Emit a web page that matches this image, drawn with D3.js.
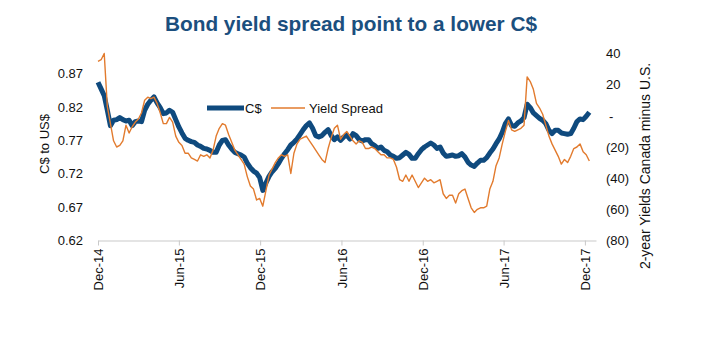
<!DOCTYPE html>
<html>
<head>
  <meta charset="utf-8">
  <title>Bond yield spread point to a lower C$</title>
  <script src="https://d3js.org/d3.v7.min.js"></script>
  <style>
    body { margin: 0; background: #fff; }
    svg text { font-family: "Liberation Sans", Arial, sans-serif; }
  </style>
</head>
<body>
  <svg id="chart" width="701" height="338"></svg>

  <script type="text/javascript">
    // weekly readings, starting 1 Dec 2014
    var startDate = "2014-12-01"
    var cad = [
      .857, .847, .837, .815, .792, .800, .801, .804, .801, .799,
      .800, .792, .798, .799, .798, .815, .824, .830, .835, .826,
      .819, .810, .811, .815, .812, .801, .790, .781, .773, .770,
      .768, .767, .763, .761, .758, .757, .755, .752, .752, .763,
      .770, .771, .763, .757, .752, .750, .748, .745, .736, .729,
      .724, .721, .714, .695, .706, .716, .723, .728, .735, .743,
      .750, .756, .763, .767, .772, .779, .786, .792, .796, .788,
      .777, .775, .777, .782, .786, .777, .771, .775, .770, .775,
      .778, .772, .780, .777, .771, .769, .771, .771, .765, .762,
      .758, .760, .755, .753, .748, .746, .743, .744, .748, .752,
      .749, .743, .743, .750, .756, .760, .763, .766, .763, .758,
      .760, .751, .746, .747, .748, .746, .747, .750, .745, .737,
      .733, .731, .736, .740, .740, .744, .751, .757, .765, .772,
      .782, .795, .802, .792, .791, .796, .799, .804, .824, .819,
      .811, .807, .803, .800, .795, .785, .780, .785, .785, .781,
      .780, .779, .780, .788, .798, .802, .801, .806, .812
    ]
    var spread = [
      35, 36, 40, 6, -5, -16, -20, -19, -16, -6,
      -11, -7, -4, -2, 2, 10, 12, 11, 12, 8,
      2, -5, -5, -1, -4, -13, -17, -19, -24, -24,
      -27, -28, -29, -25, -26, -25, -27, -22, -13, -8,
      -5, -6, -12, -17, -22, -25, -28, -31, -39, -45,
      -47, -54, -53, -58, -48, -38, -34, -30, -27, -25,
      -26, -25, -37, -24, -18, -15, -14, -13, -16, -19,
      -22, -25, -28, -30, -21, -14, -8, -6, -15, -12,
      -10, -13, -16, -18, -16, -17, -21, -21, -20, -21,
      -23, -25, -25, -27, -27, -28, -33, -41, -42, -38,
      -42, -38, -42, -46, -43, -40, -42, -41, -43, -42,
      -41, -50, -53, -51, -51, -56, -50, -48, -47, -53,
      -59, -62, -60, -59, -59, -58, -47, -42, -32, -27,
      -18, -10, -3, -9, -10, -9, -8, -6, 25, 22,
      17, 8, 5, 1, -6, -13, -18, -22, -26, -31,
      -28, -30, -26, -21, -20, -18, -23, -25, -29
    ]
    var xTicks = ["2014-12-01", "2015-06-01", "2015-12-01", "2016-06-01", "2016-12-01", "2017-06-01", "2017-12-01"]
    var leftTicks = [0.62, 0.67, 0.72, 0.77, 0.82, 0.87]
    var rightTicks = [-80, -60, -40, -20, 0, 20, 40]

    var parse = d3.timeParse("%Y-%m-%d")
    var start = parse(startDate)
    var dates = cad.map((v, i) => d3.timeWeek.offset(start, i))

    var svg = d3.select("#chart")
    var plotLeft = 98, plotRight = 596, plotTop = 53.5, plotBottom = 240.5
    var blue = "#0f4a7e", orange = "#e27b2e"

    var x = d3.scaleTime()
      .domain([start, parse("2017-12-26")])
      .range([plotLeft, plotRight])
    var yL = d3.scaleLinear().domain([0.62, 0.90]).range([plotBottom, plotTop])
    var yR = d3.scaleLinear().domain([-80, 40]).range([plotBottom, plotTop])

    svg.append("text")
      .attr("x", 351).attr("y", 31)
      .attr("text-anchor", "middle")
      .attr("font-size", 20.8).attr("font-weight", "bold")
      .attr("fill", "#1b4f7e")
      .text("Bond yield spread point to a lower C$")

    // bottom axis
    var xAxis = svg.append("g")
      .attr("transform", "translate(0," + plotBottom + ")")
      .call(d3.axisBottom(x).tickValues(xTicks.map(parse)).tickFormat(d3.timeFormat("%b-%y")).tickSize(5).tickSizeOuter(0))
    xAxis.select(".domain").attr("stroke", "#c9c9c9")
    xAxis.selectAll(".tick line").attr("stroke", "#c9c9c9")
    xAxis.selectAll(".tick text")
      .attr("font-size", 13).attr("fill", "#111")
      .attr("text-anchor", "end")
      .attr("transform", "rotate(-90)")
      .attr("x", -8).attr("y", 0).attr("dy", "0.35em")

    // left axis
    var yAxisL = svg.append("g")
      .attr("transform", "translate(" + (plotLeft - 10) + ",0)")
      .call(d3.axisLeft(yL).tickValues(leftTicks).tickFormat(d3.format(".2f")).tickSize(0))
    yAxisL.select(".domain").remove()
    yAxisL.selectAll(".tick text").attr("font-size", 13).attr("fill", "#111").attr("x", -5)

    // right axis
    var yAxisR = svg.append("g")
      .attr("transform", "translate(" + (plotRight + 6) + ",0)")
      .call(d3.axisRight(yR).tickValues(rightTicks).tickSize(0)
        .tickFormat(d => d < 0 ? "(" + (-d) + ")" : (d === 0 ? "-" : d)))
    yAxisR.select(".domain").remove()
    yAxisR.selectAll(".tick text").attr("font-size", 13).attr("fill", "#111").attr("x", 4)
      .filter(d => d === 0).attr("x", 7)

    svg.append("text")
      .attr("transform", "translate(49,144) rotate(-90)")
      .attr("text-anchor", "middle").attr("font-size", 13).attr("fill", "#111")
      .text("C$ to US$")
    svg.append("text")
      .attr("transform", "translate(650,166) rotate(-90)")
      .attr("text-anchor", "middle").attr("font-size", 14).attr("fill", "#111")
      .text("2-year Yields Canada minus U.S.")

    var cadLine = d3.line().x((d, i) => x(dates[i])).y(d => yL(d))
    var spreadLine = d3.line().x((d, i) => x(dates[i])).y(d => yR(d))

    svg.append("path").datum(cad)
      .attr("d", cadLine).attr("fill", "none")
      .attr("stroke", blue).attr("stroke-width", 5).attr("stroke-linejoin", "round")
    svg.append("path").datum(spread)
      .attr("d", spreadLine).attr("fill", "none")
      .attr("stroke", orange).attr("stroke-width", 1.4).attr("stroke-linejoin", "round")

    // legend
    var legend = svg.append("g")
    legend.append("line").attr("x1", 207).attr("x2", 244).attr("y1", 108).attr("y2", 108)
      .attr("stroke", blue).attr("stroke-width", 5)
    legend.append("text").attr("x", 245).attr("y", 112.5).attr("font-size", 13).attr("fill", "#111").text("C$")
    legend.append("line").attr("x1", 271).attr("x2", 305).attr("y1", 108).attr("y2", 108)
      .attr("stroke", orange).attr("stroke-width", 1.6)
    legend.append("text").attr("x", 309).attr("y", 112.5).attr("font-size", 13).attr("fill", "#111").text("Yield Spread")
  </script>
</body>
</html>
